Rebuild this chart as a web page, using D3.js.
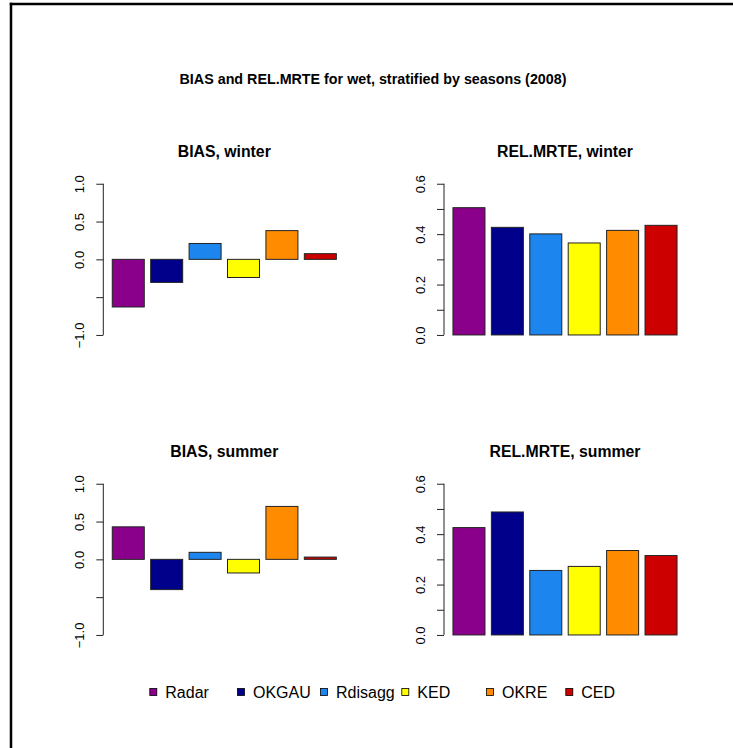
<!DOCTYPE html>
<html>
<head>
	<script src="https://cdn.jsdelivr.net/npm/d3@7"></script>
	<style>
		html, body {
			padding: 0;
			margin: 0;
			overflow: hidden;
			background: #ffffff;
		}
		text {
			font-family: "Liberation Sans", Arial, Helvetica, sans-serif;
		}
	</style>
</head>
<body>
	<script>
		// data
		var methods = ["Radar", "OKGAU", "Rdisagg", "KED", "OKRE", "CED"];
		var colors = ["#8B008B", "#00008B", "#1C86EE", "#FFFF00", "#FF8C00", "#CD0000"];

		var biasWinter = [-0.63, -0.305, 0.21, -0.24, 0.38, 0.075];
		var relWinter = [0.505, 0.427, 0.401, 0.365, 0.415, 0.435];
		var biasSummer = [0.43, -0.40, 0.093, -0.18, 0.70, 0.03];
		var relSummer = [0.426, 0.488, 0.256, 0.272, 0.335, 0.315];

		var biasTicks = [-1, -0.5, 0, 0.5, 1];
		var biasLabels = ["\u22121.0", "", "0.0", "0.5", "1.0"];
		var relTicks = [0, 0.1, 0.2, 0.3, 0.4, 0.5, 0.6];
		var relLabels = ["0.0", "", "0.2", "", "0.4", "", "0.6"];

		var mainTitle = "BIAS and REL.MRTE for wet, stratified by seasons (2008)";

		var width = 733, height = 748;

		var svg = d3.select('body').append('svg')
			.attr('width', width)
			.attr('height', height)
			.style('display', 'block');

		// outer frame: only the top and left edges fall inside the picture
		svg.append('line')
			.attr('x1', 11).attr('x2', 11)
			.attr('y1', 2.75).attr('y2', height)
			.attr('stroke', '#000')
			.attr('stroke-width', 2.5);
		svg.append('line')
			.attr('x1', 9.75).attr('x2', width)
			.attr('y1', 4).attr('y2', 4)
			.attr('stroke', '#000')
			.attr('stroke-width', 2.5);

		svg.append('text')
			.attr('x', 373).attr('y', 84)
			.attr('text-anchor', 'middle')
			.style('font-weight', 'bold')
			.style('font-size', '14.3px')
			.text(mainTitle);

		var panels = [
			{ title: "BIAS, winter", values: biasWinter, ticks: biasTicks, labels: biasLabels, dom: [-1, 1], left: 103.3, top: 177.7 },
			{ title: "REL.MRTE, winter", values: relWinter, ticks: relTicks, labels: relLabels, dom: [0, 0.6], left: 444, top: 177.7 },
			{ title: "BIAS, summer", values: biasSummer, ticks: biasTicks, labels: biasLabels, dom: [-1, 1], left: 103.3, top: 477.7 },
			{ title: "REL.MRTE, summer", values: relSummer, ticks: relTicks, labels: relLabels, dom: [0, 0.6], left: 444, top: 477.7 }
		];

		var pw = 242, ph = 163.3;

		panels.forEach(function (p) {
			var g = svg.append('g').attr('transform', 'translate(' + p.left + ',' + p.top + ')');

			// R style 4% extension of the y range
			var ext = (p.dom[1] - p.dom[0]) * 0.04;
			var y = d3.scaleLinear().domain([p.dom[0] - ext, p.dom[1] + ext]).range([ph, 0]);
			var x = d3.scaleBand().domain(methods).range([0, pw])
				.paddingInner(1 / 6).paddingOuter(0.28 / 1.2);

			g.selectAll('rect.bar')
				.data(p.values)
				.enter().append('rect')
				.attr('class', 'bar')
				.attr('x', function (d, i) { return x(methods[i]); })
				.attr('width', x.bandwidth())
				.attr('y', function (d) { return y(Math.max(0, d)); })
				.attr('height', function (d) { return Math.abs(y(d) - y(0)); })
				.attr('fill', function (d, i) { return colors[i]; })
				.attr('stroke', '#222')
				.attr('stroke-width', 1);

			var axis = d3.axisLeft(y)
				.tickValues(p.ticks)
				.tickFormat(function (d, i) { return p.labels[i]; })
				.tickSize(7)
				.tickSizeOuter(0);

			var ag = g.append('g').call(axis);
			ag.select('.domain').remove();
			ag.selectAll('.tick line').attr('stroke', '#222');
			ag.selectAll('.tick text')
				.attr('x', null).attr('dy', null)
				.attr('text-anchor', 'middle')
				.attr('transform', 'translate(-19.3,0) rotate(-90)')
				.attr('fill', '#000')
				.style('font-size', '13px')
				.style('font-family', '"Liberation Sans", Arial, Helvetica, sans-serif');

			g.append('line')
				.attr('x1', 0).attr('x2', 0)
				.attr('y1', y(p.ticks[0]))
				.attr('y2', y(p.ticks[p.ticks.length - 1]))
				.attr('stroke', '#222');

			g.append('text')
				.attr('x', pw / 2).attr('y', -21)
				.attr('text-anchor', 'middle')
				.style('font-weight', 'bold')
				.style('font-size', '15.8px')
				.text(p.title);
		});

		// legend along the bottom
		var legendX = [153.3, 241, 324, 405.3, 490, 569.3];
		var lg = svg.append('g').attr('transform', 'translate(0,692)');
		var items = lg.selectAll('g.item')
			.data(methods)
			.enter().append('g')
			.attr('class', 'item')
			.attr('transform', function (d, i) { return 'translate(' + legendX[i] + ',0)'; });

		items.append('rect')
			.attr('x', -3.5).attr('y', -3.5)
			.attr('width', 7).attr('height', 7)
			.attr('fill', function (d, i) { return colors[i]; })
			.attr('stroke', '#000')
			.attr('stroke-width', 0.8);

		items.append('text')
			.attr('x', 12).attr('y', 5.5)
			.style('font-size', '16px')
			.text(function (d) { return d; });
	</script>
</body>
</html>
